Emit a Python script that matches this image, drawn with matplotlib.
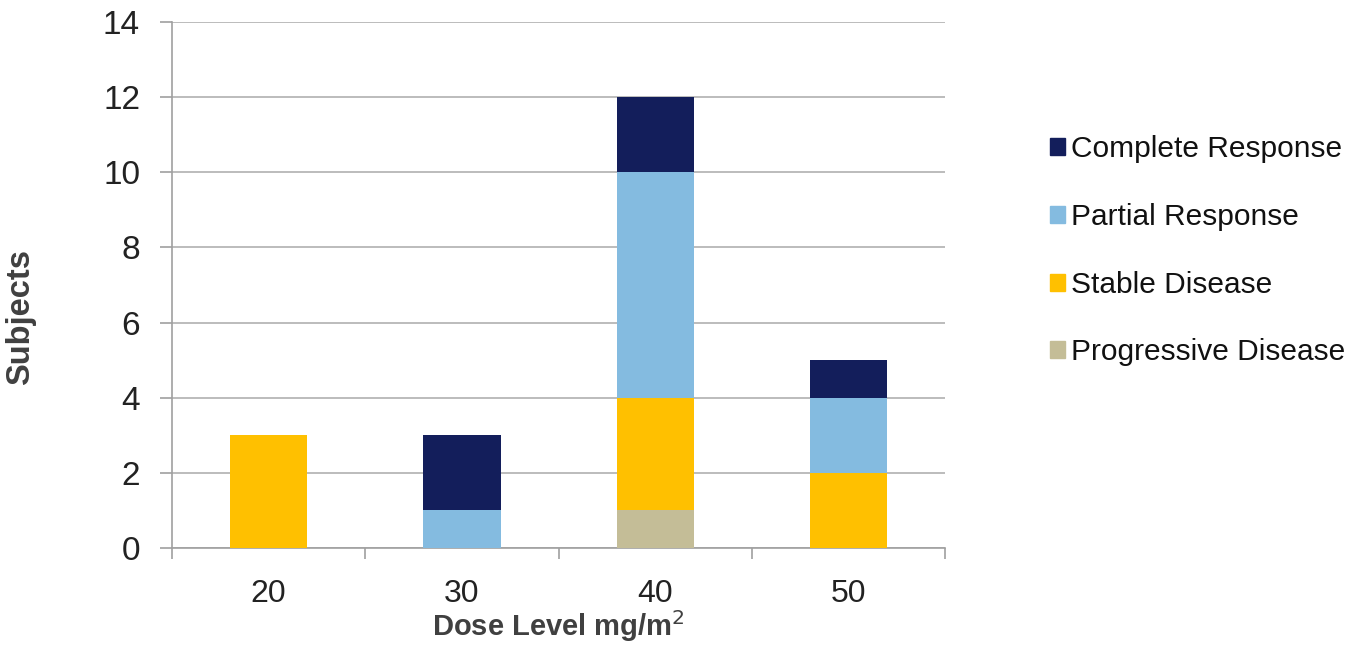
import matplotlib
matplotlib.use("Agg")
import matplotlib.pyplot as plt
import numpy as np
from matplotlib.patches import Patch

plt.rcParams['font.family'] = ['Liberation Sans', 'DejaVu Sans']

doses = ["20", "30", "40", "50"]
progressive = [0, 0, 1, 0]
stable = [3, 0, 3, 2]
partial = [0, 1, 6, 2]
complete = [0, 2, 2, 1]

series = [
    ("Progressive Disease", progressive, "#C4BD97"),
    ("Stable Disease", stable, "#FFC000"),
    ("Partial Response", partial, "#84BBE0"),
    ("Complete Response", complete, "#131E5B"),
]

fig = plt.figure(figsize=(13.57, 6.49), dpi=100)
ax = fig.add_axes([0.1268, 0.1556, 0.5696, 0.8104])

x = np.arange(len(doses))
bottom = np.zeros(len(doses))
for name, vals, col in series:
    ax.bar(x, vals, bottom=bottom, width=0.4, color=col, label=name, zorder=3)
    bottom += np.array(vals)

ax.set_xlim(-0.5, len(doses) - 0.5)
ax.set_ylim(0, 14)
ax.set_yticks(range(0, 15, 2))
ax.yaxis.grid(True, color="#B0B0B0", linewidth=1.2, zorder=0)
ax.set_axisbelow(True)
for s in ["top", "right"]:
    ax.spines[s].set_visible(False)
ax.spines["left"].set_color("#A0A0A0")
ax.spines["bottom"].set_color("#A0A0A0")
ax.spines["left"].set_linewidth(1.2)
ax.spines["bottom"].set_linewidth(1.2)

ax.set_xticks(x)
ax.set_xticklabels(doses)
ax.set_xticks(np.arange(-0.5, len(doses), 1.0), minor=True)
ax.tick_params(axis="x", which="major", length=0, labelsize=23, pad=22, colors="#222222")
ax.tick_params(axis="x", which="minor", length=8, width=1.2, color="#A0A0A0")
ax.tick_params(axis="y", length=9, width=1.2, color="#A0A0A0", labelsize=24, pad=14, labelcolor="#222222")

ax.set_xlabel("Dose Level mg/m$^{2}$", fontsize=21, fontweight="bold", color="#404040")
ax.xaxis.set_label_coords(0.5, -0.115)
ax.set_ylabel("Subjects", fontsize=23.5, fontweight="bold", color="#404040")
ax.yaxis.set_label_coords(-0.176, 0.44)

handles = [Patch(color=c, label=n) for n, v, c in series[::-1]]
fig.legend(handles=handles, loc="center left", bbox_to_anchor=(0.7537, 0.6135),
           frameon=False, fontsize=21.5, handlelength=0.5, handleheight=0.5,
           handletextpad=0.2, labelspacing=1.33, labelcolor="#111111")

fig.savefig("out.png", dpi=100)
